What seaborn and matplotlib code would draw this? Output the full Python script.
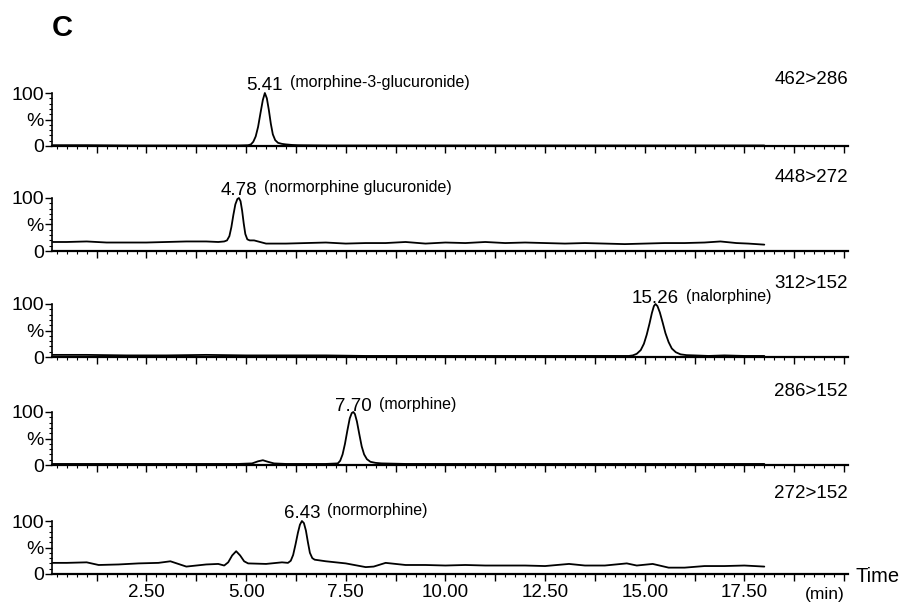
import matplotlib
matplotlib.use("Agg")
import pandas as pd
import seaborn as sns
import matplotlib.pyplot as plt
from matplotlib.ticker import MultipleLocator, FuncFormatter

# transitions (m/z), top to bottom
transitions = ['462>286', '448>272', '312>152', '286>152', '272>152']
peak_rt = ['5.41', '4.78', '15.26', '7.70', '6.43']
compounds = ['(morphine-3-glucuronide)', '(normorphine glucuronide)', '(nalorphine)',
             '(morphine)', '(normorphine)']

# traces (time in min, relative intensity in %)
t_462 = [0.15, 1.0, 2.0, 3.0, 4.0, 4.8, 5.05, 5.12, 5.18, 5.24, 5.3, 5.36, 5.42, 5.47,
         5.52, 5.57, 5.62, 5.67, 5.73, 5.8, 5.9, 6.0, 6.15, 6.3, 7.0, 8.0, 10.0, 12.0,
         14.0, 16.0, 18.0]
i_462 = [1.5, 1.5, 1.0, 1.0, 1.0, 1.0, 1.5, 3, 8, 18, 36, 62, 87, 100,
         90, 68, 42, 22, 11, 6, 4, 3, 2, 1.5, 1, 1, 1, 1,
         1, 1, 1]

t_448 = [0.15, 0.5, 1.0, 1.5, 2.0, 2.5, 3.0, 3.5, 4.0, 4.3, 4.45, 4.52, 4.58, 4.63, 4.68,
         4.73, 4.78, 4.82, 4.86, 4.9, 4.94, 4.98, 5.03, 5.09, 5.2, 5.35, 5.5, 6.0, 6.5,
         7.0, 7.5, 8.0, 8.5, 9.0, 9.5, 10.0, 10.5, 11.0, 11.5, 12.0, 12.5, 13.0, 13.5,
         14.0, 14.5, 15.0, 15.5, 16.0, 16.5, 16.9, 17.3, 17.6, 18.0]
i_448 = [17, 17, 18, 16, 16, 16, 17, 18, 18, 17, 18, 20, 28, 45, 68,
         88, 98, 100, 94, 76, 52, 32, 22, 20, 20, 17, 14, 14, 15,
         16, 14, 15, 15, 17, 14, 16, 15, 17, 15, 16, 15, 14, 15,
         14, 13, 14, 15, 15, 16, 18, 15, 14, 12]

t_312 = [0.15, 1.0, 2.0, 3.0, 4.0, 5.0, 6.0, 7.0, 8.0, 9.0, 10.0, 11.0, 12.0, 13.0, 14.0,
         14.6, 14.7, 14.8, 14.9, 14.98, 15.05, 15.12, 15.18, 15.23, 15.27, 15.32, 15.38,
         15.45, 15.52, 15.6, 15.68, 15.78, 15.9, 16.05, 16.25, 16.6, 17.0, 17.5, 18.0]
i_312 = [4, 4, 3, 3, 4, 3, 3, 3, 2, 2, 2, 2, 2, 2, 2,
         2, 3, 6, 13, 25, 42, 63, 83, 96, 100, 96, 84,
         65, 45, 28, 16, 9, 5, 3.5, 3, 2, 3, 2, 2]

t_286 = [0.15, 1.0, 2.0, 3.0, 4.0, 4.8, 5.15, 5.3, 5.42, 5.55, 5.7, 6.0, 6.5, 7.0, 7.3,
         7.36, 7.42, 7.48, 7.54, 7.6, 7.65, 7.69, 7.73, 7.78, 7.84, 7.9, 7.96, 8.03, 8.12,
         8.25, 8.4, 9.0, 10.0, 11.0, 12.0, 13.0, 14.0, 15.0, 16.0, 17.0, 18.0]
i_286 = [2, 2, 2, 2, 2, 2, 3, 7, 9, 6, 3, 2, 2, 2, 3,
         8, 20, 40, 65, 88, 98, 100, 96, 82, 58, 35, 20, 11, 6,
         4, 3, 2, 2, 2, 2, 2, 2, 2, 2, 2, 2]

t_272 = [0.15, 0.5, 1.0, 1.3, 1.8, 2.3, 2.8, 3.1, 3.5, 4.0, 4.3, 4.45, 4.55, 4.65, 4.75,
         4.85, 4.95, 5.05, 5.5, 5.9, 6.05, 6.12, 6.18, 6.24, 6.3, 6.35, 6.4, 6.45, 6.5,
         6.55, 6.6, 6.66, 6.72, 7.0, 7.5, 8.0, 8.2, 8.5, 9.0, 9.5, 10.0, 10.5, 11.0, 11.5,
         12.0, 12.5, 13.1, 13.5, 14.0, 14.55, 14.8, 15.2, 15.6, 16.0, 16.5, 17.0, 17.5,
         18.0]
i_272 = [21, 21, 22, 17, 18, 20, 21, 24, 14, 18, 19, 16, 22, 35, 43,
         35, 24, 20, 19, 22, 21, 25, 36, 56, 78, 93, 100, 96, 82,
         60, 40, 30, 27, 24, 20, 13, 14, 21, 17, 17, 16, 17, 16, 16,
         16, 15, 19, 16, 16, 20, 16, 19, 12, 12, 15, 15, 16,
         14]

traces = [(t_462, i_462), (t_448, i_448), (t_312, i_312), (t_286, i_286), (t_272, i_272)]

sns.set_style("ticks", {'axes.edgecolor': 'black', 'xtick.color': 'black',
                        'ytick.color': 'black', 'text.color': 'black'})
plt.rcParams['font.family'] = ['Liberation Sans', 'DejaVu Sans']

W, H = 900, 603
fig = plt.figure(figsize=(W / 100, H / 100), dpi=100)

left_px, right_px = 52, 848
base_px = [146, 251, 357, 465, 574]
panel_h = 53
ion_y_px = [79, 177, 283, 392, 493]
label_lift = [2.5, 2.5, 0.5, 0.5, 2.5]


def xfmt(v, pos):
    if 0 < v < 20 and abs(v / 2.5 - round(v / 2.5)) < 1e-6:
        return f'{v:.2f}'
    return ''


axes = []
for k, (t, inten) in enumerate(traces):
    y0 = base_px[k]
    ax = fig.add_axes([left_px / W, (H - y0) / H, (right_px - left_px) / W, panel_h / H])
    df = pd.DataFrame({'time': t, 'intensity': inten})
    sns.lineplot(data=df, x='time', y='intensity', ax=ax, color='black', lw=1.3,
                 estimator=None, sort=False)
    for ln in ax.lines:
        ln.set_clip_on(False)
    ax.set_xlim(0.13, 20.1)
    ax.set_ylim(0, 100)
    ax.set_xlabel('')
    ax.set_ylabel('')
    sns.despine(ax=ax)
    ax.spines['left'].set_linewidth(1.2)
    ax.spines['bottom'].set_linewidth(1.6)
    ax.set_yticks([0, 50, 100])
    ax.set_yticklabels(['0', '%', '100'])
    ax.yaxis.set_minor_locator(MultipleLocator(10))
    ax.xaxis.set_major_locator(MultipleLocator(1.25))
    ax.xaxis.set_minor_locator(MultipleLocator(0.25))
    ax.tick_params(which='major', direction='out', length=5, width=1.0, labelsize=14, pad=1)
    ax.tick_params(which='minor', direction='out', length=2.5, width=0.8)
    if k == len(traces) - 1:
        ax.xaxis.set_major_formatter(FuncFormatter(xfmt))
        ax.tick_params(axis='x', labelsize=13.5, pad=2.5)
    else:
        ax.tick_params(axis='x', labelbottom=False)

    # peak annotations
    imax = inten.index(max(inten))
    tp = t[imax]
    ax.annotate(peak_rt[k], xy=(tp, 100), xytext=(0, label_lift[k]),
                textcoords='offset points', ha='center', va='baseline', fontsize=13.5)
    axes.append((ax, tp))

    fig.text(right_px / W, (H - ion_y_px[k]) / H, transitions[k], ha='right',
             va='center', fontsize=13.5)

fig.canvas.draw()
renderer = fig.canvas.get_renderer()
for k, (ax, tp) in enumerate(axes):
    num = ax.texts[0]
    bb = num.get_window_extent(renderer)
    off_px = bb.width / 2 + 7
    ax.annotate(compounds[k], xy=(tp, 100), xytext=(off_px * 0.72, label_lift[k] + 2),
                textcoords='offset points', ha='left', va='baseline', fontsize=11.5)

fig.text(52 / W, (H - 28) / H, 'C', fontsize=21, fontweight='bold', va='center')
fig.text(855 / W, (H - 577) / H, 'Time', fontsize=14.5, va='center', ha='left')
fig.text(825 / W, (H - 594) / H, '(min)', fontsize=12.5, va='center', ha='center')

fig.savefig('out.png', dpi=100)
